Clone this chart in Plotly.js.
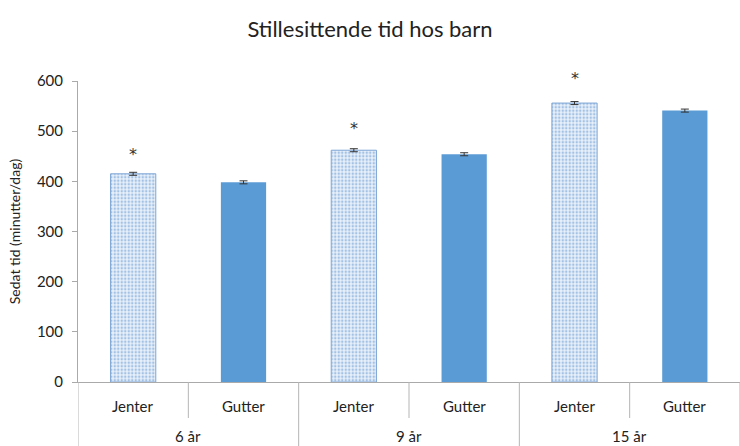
<!DOCTYPE html>
<html><head><meta charset="utf-8">
<script src="https://cdn.plot.ly/plotly-3.0.1.min.js"></script>
<style>html,body{margin:0;padding:0;background:#fff}#c{width:740px;height:446px}</style>
</head><body><div id="c"></div>
<script>
const ageGroups = ["6 år", "9 år", "15 år"];
const sexes = ["Jenter", "Gutter"];
const jenterValues = [415, 462, 556];
const gutterValues = [398, 454, 541];
const jenterErr = [3, 3, 3];
const gutterErr = [3, 3, 3];
const starText = ["*", "*", "*"];

const font = "Lato, 'Open Sans', sans-serif";
const xJ = [ageGroups, ageGroups.map(() => sexes[0])];
const xG = [ageGroups, ageGroups.map(() => sexes[1])];

const traces = [
  {type: "bar", x: xJ, y: jenterValues, name: "Jenter",
   marker: {color: "#dce9f7", line: {color: "#7ea6d6", width: 1},
            pattern: {shape: ".", fgcolor: "#a3c1e4", bgcolor: "#e8f1fa", size: 3.5, solidity: 0.4, fillmode: "replace"}},
   error_y: {type: "data", array: jenterErr, color: "#333", thickness: 1, width: 4}},
  {type: "bar", x: xG, y: gutterValues, name: "Gutter",
   marker: {color: "#5b9bd5", line: {width: 0}},
   error_y: {type: "data", array: gutterErr, color: "#333", thickness: 1, width: 4}}
];

const nSub = sexes.length;
const plotH = 446 - 81 - 64;
const annotations = [];
const shapes = [];
ageGroups.forEach((g, gi) => {
  sexes.forEach((s, si) => {
    annotations.push({xref: "x", yref: "paper", x: gi * nSub + si, y: -24 / plotH, yanchor: "middle",
      text: s, showarrow: false, font: {family: font, size: 15, color: "#222"}});
  });
  annotations.push({xref: "x", yref: "paper", x: gi * nSub + (nSub - 1) / 2, y: -54 / plotH, yanchor: "middle",
    text: g, showarrow: false, font: {family: font, size: 15, color: "#222"}});
  annotations.push({xref: "x", yref: "y", x: gi * nSub, y: jenterValues[gi] + jenterErr[gi], yanchor: "bottom",
    yshift: 6 + gi * 3, text: starText[gi], showarrow: false,
    font: {family: "'DejaVu Sans', sans-serif", size: 16, color: "#333"}});
});
for (let k = 0; k <= ageGroups.length * nSub; k++) {
  const isGroup = k % nSub === 0;
  shapes.push({type: "line", xref: "x", yref: "paper", x0: k - 0.5, x1: k - 0.5,
    y0: 0, y1: (isGroup ? -66 : -36) / plotH, line: {color: "#b5b5b5", width: 1}});
}

const layout = {
  width: 740, height: 446,
  margin: {l: 78, r: 0, t: 81, b: 64},
  paper_bgcolor: "#fff", plot_bgcolor: "#fff",
  showlegend: false,
  barmode: "group", bargap: 0.59,
  title: {text: "Stillesittende tid hos barn", x: 0.5, xanchor: "center", y: 0.935, yanchor: "middle",
          font: {family: font, size: 22, color: "#222"}},
  font: {family: font, color: "#222"},
  annotations: annotations,
  shapes: shapes,
  xaxis: {type: "multicategory", range: [-0.5, 5.5], showline: true, linecolor: "#aaa", linewidth: 1,
          showdividers: false, showticklabels: false, automargin: false,
          ticks: "", showgrid: false, zeroline: false},
  yaxis: {range: [0, 600], dtick: 100, showline: true, linecolor: "#aaa", linewidth: 1, automargin: false,
          ticks: "outside", ticklen: 5, tickcolor: "#aaa", showgrid: false, zeroline: false,
          ticklabelstandoff: 6,
          tickfont: {family: font, size: 15, color: "#222"},
          title: {text: "Sedat tid (minutter/dag)", font: {family: font, size: 14, color: "#222"}, standoff: 12}}
};
Plotly.newPlot("c", traces, layout, {displayModeBar: false, staticPlot: true});
</script></body></html>
